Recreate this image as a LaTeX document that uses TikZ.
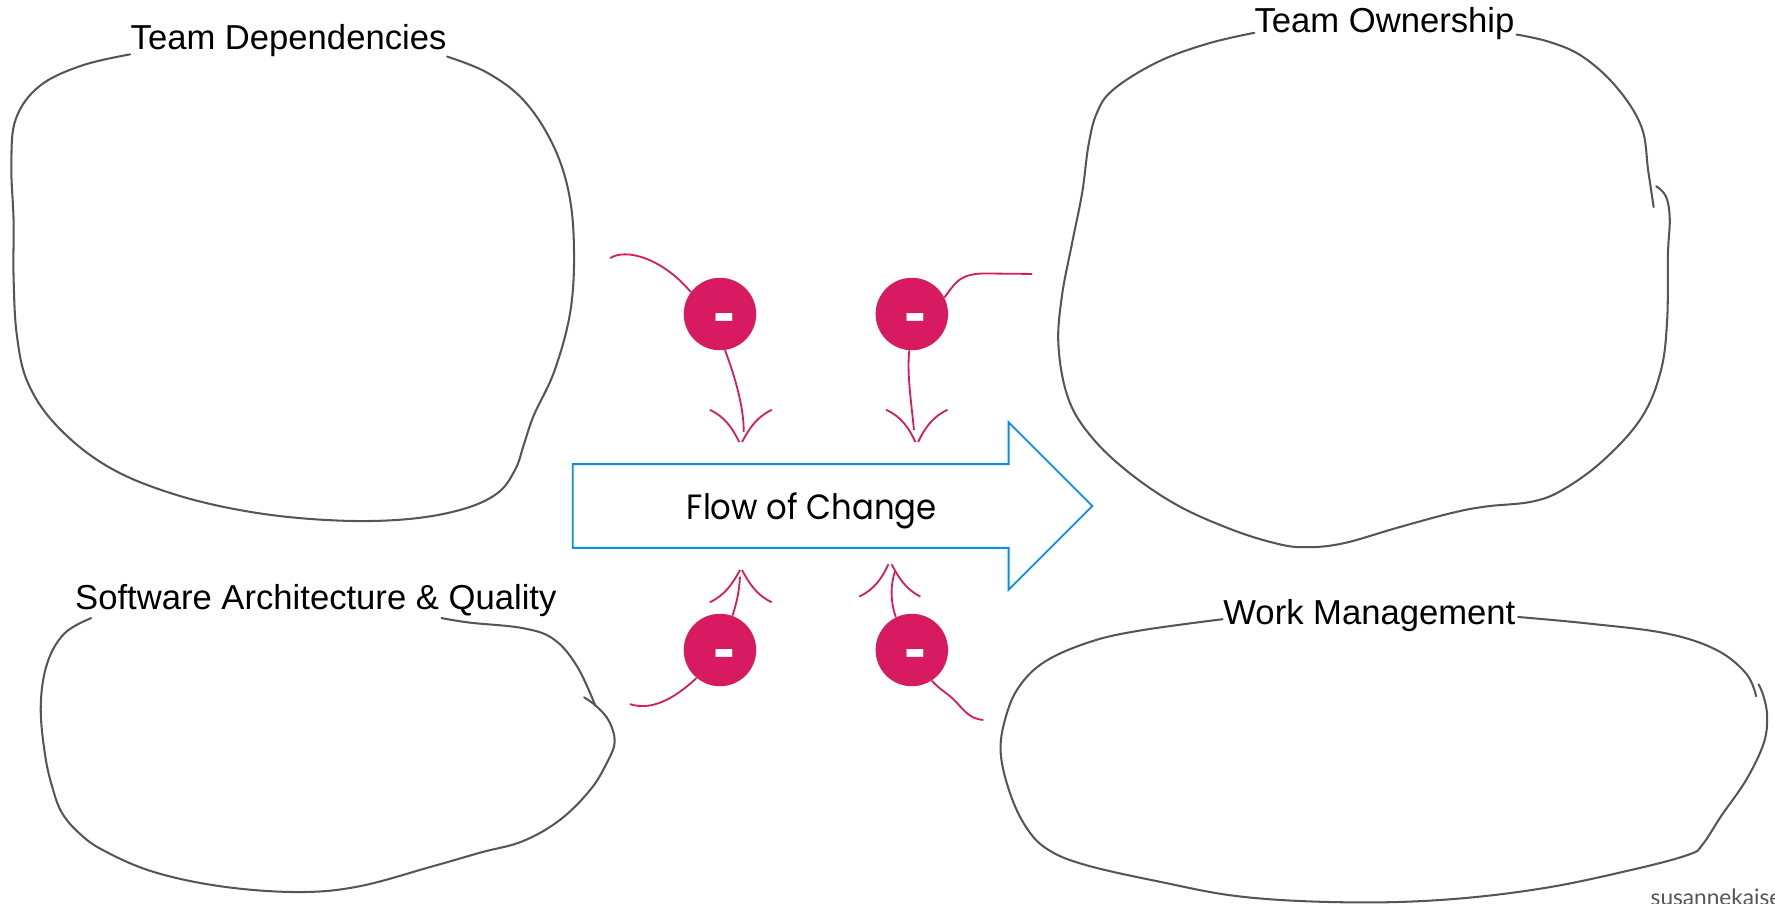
\documentclass[tikz,border=0pt]{standalone}
\usepackage{fontspec}
\setmainfont{Liberation Sans}
\newfontfamily\flowfont[FakeStretch=0.92]{Poppins}
\newfontfamily\creditfont{Lato}
\newfontfamily\boldf{Liberation Sans Bold}
\definecolor{pinkc}{HTML}{D81B60}
\definecolor{bluec}{HTML}{0B8FE6}
\definecolor{greyc}{HTML}{555555}
\tikzset{
  blob/.style={draw=greyc,line width=1.8pt,line cap=round},
  pinkline/.style={draw=pinkc,line width=1.6pt},
  bub/.style={circle,fill=pinkc,minimum size=64pt,inner sep=0pt},
  minusmark/.style={text=white,inner sep=0pt,font=\boldf\fontsize{58}{58}\selectfont},
  title/.style={anchor=base,inner sep=0pt,font=\fontsize{30.6}{36}\selectfont},
}
\begin{document}
\begin{tikzpicture}[x=1pt,y=-1pt]
\useasboundingbox (0,0) rectangle (1568,797.7);
% blobs
\draw[blob] plot[smooth,tension=0.62] coordinates {(115,48) (72,58) (35,76) (14,105) (10,145) (12,195) (12,245) (15,297) (25,339) (51,377) (95,412) (152,436) (220,452) (291,459.5) (355,459) (406,450.6) (439,436) (455,415) (463,392) (471.5,367) (490,327) (504,274) (507,218) (502,168) (487,125) (462,88) (430,64) (395,50)};
\draw[blob] plot[smooth,tension=0.62] coordinates {(1108,29) (1067,38.5) (1023,54.6) (984,78.7) (969,99.6) (961.5,128.5) (956,170) (947,215) (938,262) (935,305) (943,350) (961,382) (993,414) (1037.7,445) (1086,467) (1127,480) (1153,483.4) (1186.4,480) (1235,466) (1283,453) (1313,447.4) (1354,443) (1381.6,432) (1417,406) (1450,369) (1467,328) (1472.7,283) (1473.4,225) (1475,193) (1471.6,173.4) (1463,164.5)};
\draw[blob] plot[smooth,tension=0.62] coordinates {(1460.8,183) (1456,151) (1450,112) (1428,77) (1398,50) (1368.6,37) (1339.6,30.5)};
\draw[blob] plot[smooth,tension=0.62] coordinates {(80.6,546) (57,559.5) (41.7,586) (36,624) (40,668) (47,698) (55,718.5) (70,736) (91,751) (135,770) (195.5,783) (263,788) (317,783) (381,765.6) (425,753) (462,743) (495,724) (522,697) (537,672) (543,655) (538,637) (527,624) (516,616)};
\draw[blob] plot[smooth,tension=0.62] coordinates {(526,623.6) (510,589) (489.6,565) (462.5,555) (415,550) (390,546)};
\draw[blob] plot[smooth,tension=0.62] coordinates {(1080,547) (1007,557) (963,567) (923,584.5) (900,607) (888,635) (884,665) (892,700) (906,730) (925,750) (958.6,764) (1025,779) (1096,792) (1184,797) (1272.7,795) (1361,785) (1441,768.5) (1491.6,755) (1504,746) (1521,720) (1542.5,689) (1558,656.6) (1561,633) (1558,615.4) (1553.5,604.5)};
\draw[blob] plot[smooth,tension=0.62] coordinates {(1551.3,615) (1542.5,595) (1516,574) (1471.7,559.5) (1405,551) (1341,545)};
% titles
\node[title] (t1) at (254.9,43.5) {Team Dependencies};
\node[title] (t2) at (1223,29) {Team Ownership};
\node[title] (t3) at (279,538.5) {Software Architecture \& Quality};
\node[title] (t4) at (1209.7,551.5) {Work Management};
% arrow
\draw[draw=bluec,line width=1.6pt,fill=white,line join=miter] (506,410) -- (891,410) -- (891,373) -- (965,447) -- (891,521) -- (891,484) -- (506,484) -- cycle;
\node[anchor=base,inner sep=0pt,font=\flowfont\fontsize{31}{36}\selectfont] (flow) at (717,458.8) {Flow of Change};
% bubbles
\node[bub] (b1) at (636,277.4) {};
\node[bub] (b2) at (805.5,277.4) {};
\node[bub] (b3) at (636,574.2) {};
\node[bub] (b4) at (805.5,574.2) {};
\node[minusmark] (m1) at (639.6,286) {-};
\node[minusmark] (m2) at (809.1,286) {-};
\node[minusmark] (m3) at (639.6,583) {-};
\node[minusmark] (m4) at (809.1,583) {-};
% free ends
\coordinate (s1) at (539,228);
\coordinate (s2) at (911.8,242);
\coordinate (s3) at (556.5,622);
\coordinate (s4) at (868.7,636);
\coordinate (e1) at (657,381.4);
\coordinate (e2) at (807.4,380);
\coordinate (e3) at (653.7,509.4);
\coordinate (e4) at (790.7,504.4);
% connectors
\draw[pinkline] (s1) .. controls (553,219) and (585,228) .. (b1.143);
\draw[pinkline] (s2) -- (872,241.6) .. controls (846,241) and (843,252) .. (b2.27);
\draw[pinkline] (s3) .. controls (575,628) and (595,618) .. (b3.-130);
\draw[pinkline] (s4) .. controls (855,635) and (850,625) .. (842,617.5) .. controls (835,611) and (830,609) .. (b4.-57);
\draw[pinkline] (b1.-82) .. controls (650,335) and (657,360) .. (e1);
\draw[pinkline] (b2.-94) .. controls (801,330) and (805,355) .. (e2);
\draw[pinkline] (b3.70) .. controls (651,532) and (653,522) .. (e3);
\draw[pinkline] (b4.116) .. controls (786,530) and (787,515) .. (e4);
% arrowheads
\draw[pinkline] (627,362) .. controls (640,368) and (647,378) .. (653,390.5);
\draw[pinkline] (655.5,390.5) .. controls (662,378) and (669,368) .. (681.8,362);
\draw[pinkline] (782.8,362) .. controls (796,368) and (803,378) .. (808.6,390.5);
\draw[pinkline] (811,390.5) .. controls (817,378) and (824,368) .. (837,362);
\draw[pinkline] (627,532) .. controls (640,526) and (647,516) .. (653.7,503.5);
\draw[pinkline] (655.5,503.5) .. controls (662,516) and (669,526) .. (681.7,532);
\draw[pinkline] (759,527) .. controls (772,521) and (779,511) .. (784.8,498.5);
\draw[pinkline] (787.7,498.5) .. controls (794,511) and (801,521) .. (813,527);
% credit
\node[anchor=base west,inner sep=0pt,text=greyc,font=\creditfont\fontsize{20}{24}\selectfont] (cr) at (1458,800.2) {susannekaiser};
\end{tikzpicture}
\end{document}
